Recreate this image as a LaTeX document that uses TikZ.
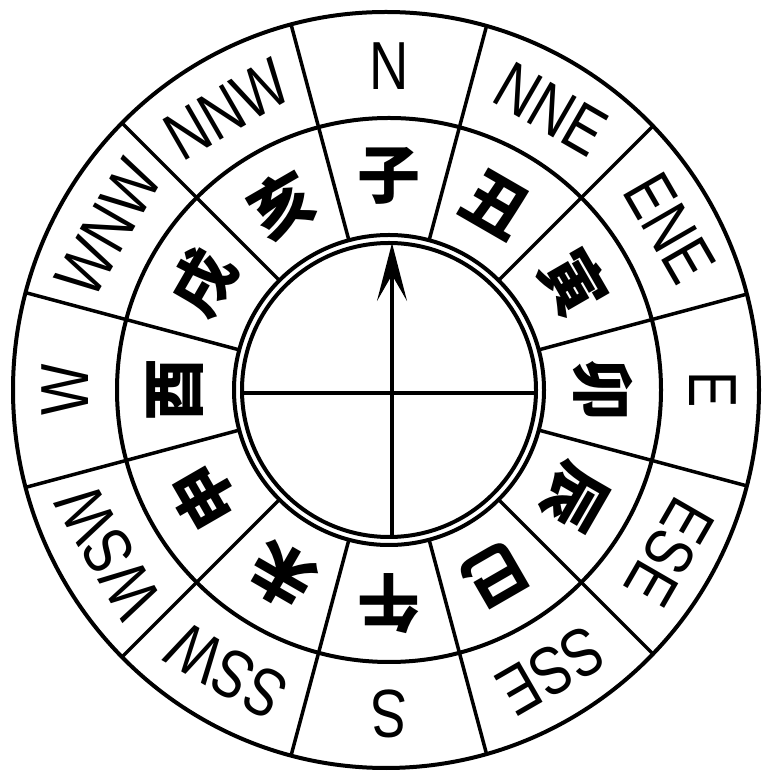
\documentclass[tikz,border=0pt]{standalone}
\usepackage{fontspec}
\setmainfont{Liberation Sans}
\newfontfamily\dirfont[FakeStretch=0.8]{Liberation Sans}
\newfontfamily\cjk{Noto Sans CJK SC}
\usetikzlibrary{arrows.meta}
\begin{document}
\begin{tikzpicture}[x=1pt,y=1pt,
  ring/.style={line width=4pt},
  spoke/.style={line width=3.5pt},
  cross/.style={line width=3.5pt},
  dirlabel/.style={font=\dirfont\fontsize{68}{68}\selectfont, inner sep=0pt},
  branch/.style={font=\cjk\bfseries\fontsize{63}{63}\selectfont, inner sep=0pt}]
\useasboundingbox (0,0) rectangle (762,771);
\coordinate (c) at (389,381);
\coordinate (oc) at (386,381);
% spokes between sectors
\begin{scope}
  \clip (oc) ellipse [x radius=373, y radius=378];
  \foreach \k in {0,...,11} {
    \coordinate (si\k) at ([shift={({15+30*\k}:155)}]c);
    \coordinate (so\k) at ([shift={({15+30*\k}:400)}]c);
    \draw[spoke] (si\k) -- (so\k);
  }
\end{scope}
% rings
\draw[ring] (oc) ellipse [x radius=373, y radius=378];
\draw[ring] (c) circle [radius=272];
\draw[ring] (c) circle [radius=155];
\draw[ring] (c) circle [radius=147];
% cross with arrow
\coordinate (cw) at (242,378);
\coordinate (ce) at (536,378);
\coordinate (cs) at (392,234);
\coordinate (cn) at (392,528);
\draw[cross] (cw) -- (ce);
\draw[cross, -{Stealth[length=58pt, width=30pt, inset=26pt]}] (cs) -- (cn);
% direction labels
\foreach \t [count=\k from 0] in {N,NNE,ENE,E,ESE,SSE,S,SSW,WSW,W,WNW,NNW} {
  \node[dirlabel, rotate=-30*\k] (d\k) at ([shift={({90-30*\k}:324)}]c) {\t};
}
% earthly branches
\foreach \t [count=\k from 0] in {子,丑,寅,卯,辰,巳,午,未,申,酉,戌,亥} {
  \node[branch, rotate=-30*\k] (b\k) at ([shift={({90-30*\k}:214)}]c) {\t};
}
\end{tikzpicture}
\end{document}
